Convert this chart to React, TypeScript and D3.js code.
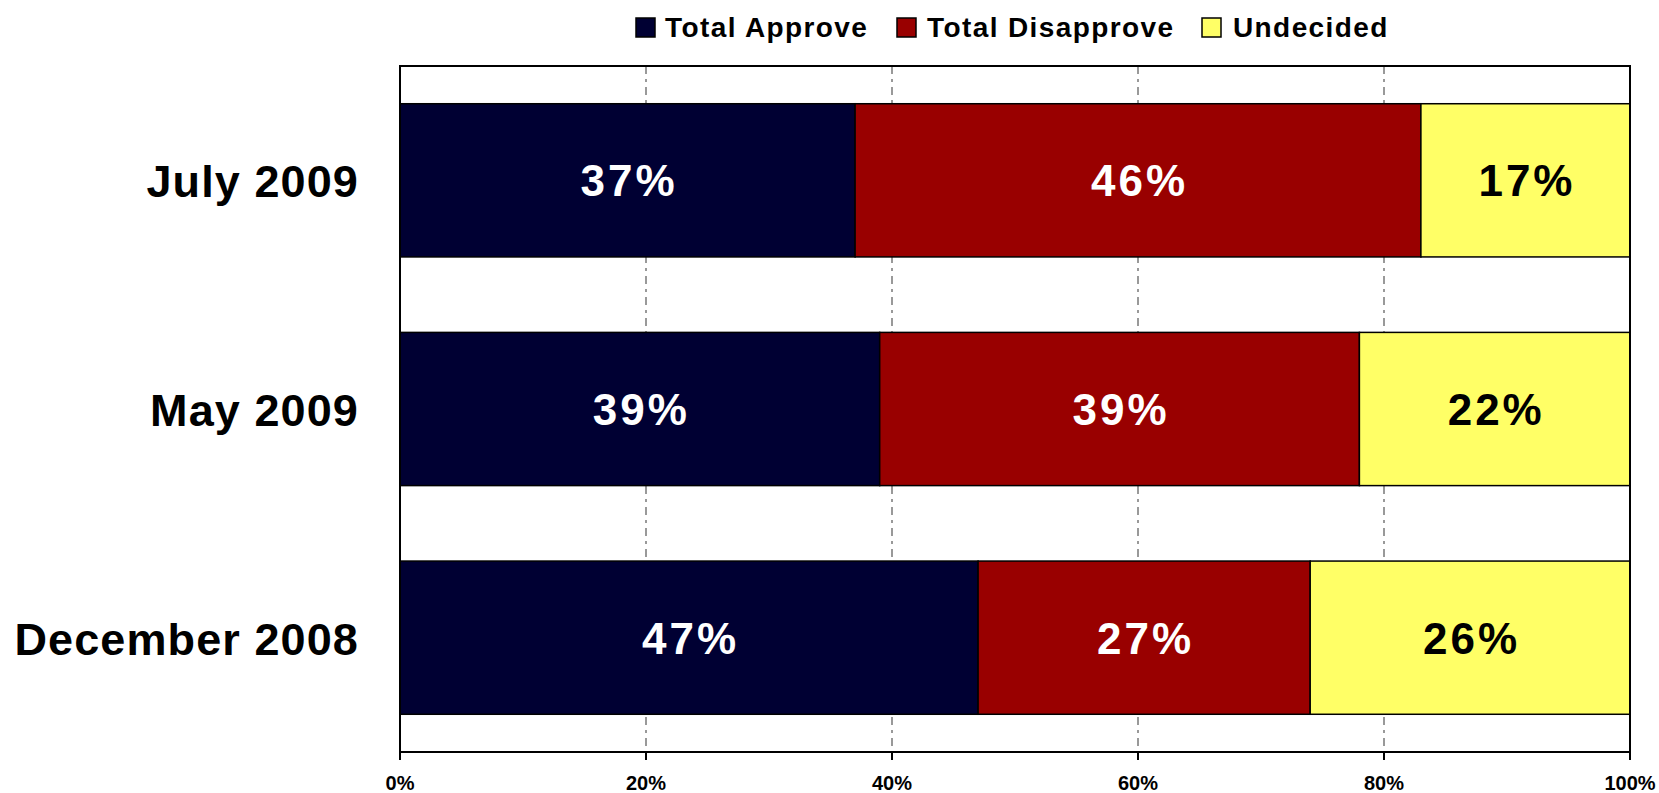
import React from "react";
import * as d3 from "d3";

const categories = ["July 2009", "May 2009", "December 2008"];
const seriesNames = ["Total Approve", "Total Disapprove", "Undecided"];
const approve = [37, 39, 47];
const disapprove = [46, 39, 27];
const undecided = [17, 22, 26];
const tickValues = [0, 20, 40, 60, 80, 100];
const colors = ["#000033", "#990000", "#FFFF66"];
const labelColors = ["#ffffff", "#ffffff", "#000000"];

const W = 1659;
const H = 793;
const M = { left: 400, right: 1630, top: 66, bottom: 752 };
const FONT = "'Liberation Sans', Arial, Helvetica, sans-serif";

export default function App() {
  const x = d3.scaleLinear().domain([0, 100]).range([M.left, M.right]);
  const y = d3
    .scaleBand<string>()
    .domain(categories)
    .range([M.top, M.bottom])
    .paddingInner(0.33)
    .paddingOuter(0.165);

  const rows = categories.map((c, i) => ({
    cat: c,
    approve: approve[i],
    disapprove: disapprove[i],
    undecided: undecided[i],
  }));
  const keys = ["approve", "disapprove", "undecided"];
  const stack = d3.stack<any>().keys(keys)(rows);

  const legendSquares = [636, 897, 1202];
  const legendTexts = [665, 927, 1233];

  return (
    <svg width={W} height={H} style={{ position: "absolute", left: 0, top: 0 }} fontFamily={FONT}>
      <rect x={0} y={0} width={W} height={H} fill="#fff" />
      {/* legend */}
      {seriesNames.map((n, i) => (
        <g key={n}>
          <rect x={legendSquares[i]} y={18} width={19} height={19} fill={colors[i]} stroke="#000" strokeWidth={1.5} />
          <text x={legendTexts[i]} y={37} fontSize={28} fontWeight="bold" letterSpacing={1.4} fill="#000">
            {n}
          </text>
        </g>
      ))}
      {/* gridlines */}
      {tickValues.slice(1, -1).map((t) => (
        <line
          key={t}
          x1={x(t)}
          x2={x(t)}
          y1={M.top}
          y2={M.bottom}
          stroke="#999"
          strokeWidth={2}
          strokeDasharray="8,5,3,5"
        />
      ))}
      {/* bars */}
      {stack.map((s, si) =>
        s.map((d: any, i: number) => (
          <rect
            key={si + "-" + i}
            x={x(d[0])}
            y={y(categories[i])}
            width={x(d[1]) - x(d[0])}
            height={y.bandwidth()}
            fill={colors[si]}
            stroke="#000"
            strokeWidth={1.5}
          />
        ))
      )}
      {/* data labels */}
      {stack.map((s, si) =>
        s.map((d: any, i: number) => (
          <text
            key={"l" + si + "-" + i}
            x={x((d[0] + d[1]) / 2) + 1.5}
            y={(y(categories[i]) as number) + y.bandwidth() / 2 + 16}
            textAnchor="middle"
            fontSize={44}
            fontWeight="bold"
            letterSpacing={3}
            fill={labelColors[si]}
          >
            {d[1] - d[0]}%
          </text>
        ))
      )}
      {/* plot border */}
      <rect x={M.left} y={M.top} width={M.right - M.left} height={M.bottom - M.top} fill="none" stroke="#000" strokeWidth={2} />
      {/* x ticks */}
      {tickValues.map((t) => (
        <g key={"t" + t}>
          <line x1={x(t)} x2={x(t)} y1={M.bottom} y2={M.bottom + 8} stroke="#000" strokeWidth={2} />
          <text x={x(t)} y={790} textAnchor="middle" fontSize={20} fontWeight="bold" fill="#000">
            {t}%
          </text>
        </g>
      ))}
      {/* category labels */}
      {categories.map((c) => (
        <text
          key={c}
          x={359}
          y={(y(c) as number) + y.bandwidth() / 2 + 17}
          textAnchor="end"
          fontSize={45}
          fontWeight="bold"
          letterSpacing={1.1}
          fill="#000"
        >
          {c}
        </text>
      ))}
    </svg>
  );
}
